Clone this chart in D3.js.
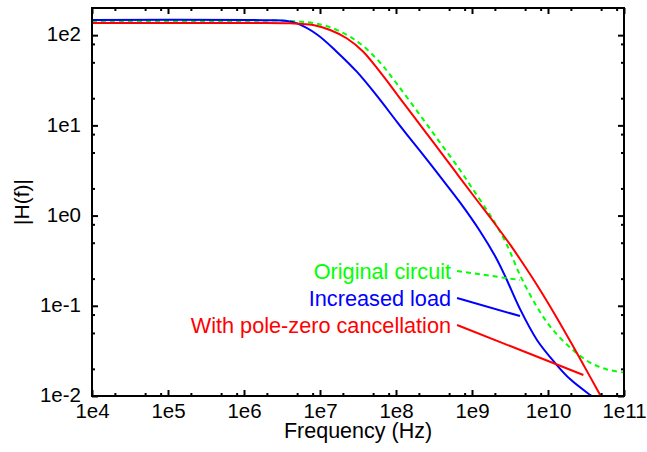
<!DOCTYPE html>
<html>
<head>
<meta charset="utf-8">
<script src="https://cdn.jsdelivr.net/npm/d3@7/dist/d3.min.js"></script>
<style>
  body { margin: 0; background: #fff; }
  text { font-family: 'Liberation Sans', Arial, Helvetica, sans-serif; }
</style>
</head>
<body>
<div id="chart"></div>
<script>
// [frequency (Hz), |H(f)|]
var originalCircuit = [
  [1e4, 143.6], [1e6, 143.6], [4.03e6, 143.6], [1.09e7, 129.7], [2.27e7, 100.5],
  [3.68e7, 75.9], [6.16e7, 49.8], [1.03e8, 28.8], [2.07e8, 13.0], [3.79e8, 6.46],
  [6.95e8, 3.20], [1.03e9, 1.95], [1.57e9, 1.15], [2.01e9, 0.828], [2.89e9, 0.472],
  [4.28e9, 0.219], [7.16e9, 0.097], [1.16e10, 0.054], [2.13e10, 0.0324],
  [3.57e10, 0.0235], [5.97e10, 0.0197], [1e11, 0.0182]
]

var increasedLoad = [
  [1e4, 147.5], [1.2e6, 147.5], [2.2e6, 146.2], [3.68e6, 143.6], [4.98e6, 134.9],
  [9.14e6, 101.8], [1.67e7, 65.2], [3.07e7, 39.1], [5.62e7, 21.2], [1.06e8, 10.6],
  [2.07e8, 5.20], [3.79e8, 2.72], [6.95e8, 1.40], [1.27e9, 0.675], [2.01e9, 0.356],
  [2.72e9, 0.214], [4.28e9, 0.0922], [7.16e9, 0.0418], [1.24e10, 0.0232],
  [1.95e10, 0.0154], [3.57e10, 0.0103], [5.62e10, 0.0079]
]

var poleZero = [
  [1e4, 136.5], [1e6, 136.5], [4.03e6, 135.5], [8.09e6, 129.7], [1.36e7, 114.2],
  [2.27e7, 91.9], [3.68e7, 65.9], [6.16e7, 39.1], [1.06e8, 21.4], [1.67e8, 12.9],
  [3.07e8, 6.55], [5.62e8, 3.33], [1.03e9, 1.69], [2.01e9, 0.807], [3.16e9, 0.479],
  [4.28e9, 0.330], [7.16e9, 0.170], [1.31e10, 0.0733], [2.13e10, 0.0358],
  [3.57e10, 0.0164], [4.98e10, 0.00987], [6.95e10, 0.00593]
]

// annotation lines: label, [f0, v0] -> [f1, v1]
var annotations = [
  { label: 'Original circuit', color: '#00ff00', dash: '5,4', from: [6.36e8, 0.243], to: [4.28e9, 0.193] },
  { label: 'Increased load', color: '#0000ff', dash: null, from: [6.36e8, 0.122], to: [4.28e9, 0.077] },
  { label: 'With pole-zero cancellation', color: '#ff0000', dash: null, from: [6.36e8, 0.0612], to: [2.92e10, 0.0171] }
]

var xMajor = [1e4, 1e5, 1e6, 1e7, 1e8, 1e9, 1e10, 1e11]
var xTickLabels = ['1e4', '1e5', '1e6', '1e7', '1e8', '1e9', '1e10', '1e11']
var yMajor = [1e-2, 1e-1, 1e0, 1e1, 1e2]
var yTickLabels = ['1e-2', '1e-1', '1e0', '1e1', '1e2']
var minorSteps = [2, 5, 8]

var margin = { top: 8, left: 92, right: 23, bottom: 56 }
var width = 647 - margin.left - margin.right
var height = 452 - margin.top - margin.bottom

var svg = d3
  .select('#chart')
  .append('svg')
  .attr('width', width + margin.left + margin.right)
  .attr('height', height + margin.top + margin.bottom)
  .append('g')
  .attr('transform', 'translate(' + margin.left + ',' + margin.top + ')')

var xPositionScale = d3.scaleLog().domain([1e4, 1e11]).range([0, width])
var yPositionScale = d3.scaleLog().domain([0.01, 200]).range([height, 0])

var xMinor = []
xMajor.slice(0, -1).forEach(function(d) {
  minorSteps.forEach(function(m) { xMinor.push(d * m) })
})
var yMinor = []
yMajor.forEach(function(d) {
  minorSteps.forEach(function(m) { if (d * m < 200) yMinor.push(d * m) })
})

svg.append('clipPath')
  .attr('id', 'plot-clip')
  .append('rect')
  .attr('width', width)
  .attr('height', height)

var line = d3
  .line()
  .x(function(d) { return xPositionScale(d[0]) })
  .y(function(d) { return yPositionScale(d[1]) })
  .curve(d3.curveCatmullRom.alpha(0.5))

var plot = svg.append('g').attr('clip-path', 'url(#plot-clip)')

plot.append('path')
  .datum(originalCircuit)
  .attr('d', line)
  .attr('fill', 'none')
  .attr('stroke', '#00ff00')
  .attr('stroke-width', 2)
  .attr('stroke-dasharray', '5,4')

plot.append('path')
  .datum(increasedLoad)
  .attr('d', line)
  .attr('fill', 'none')
  .attr('stroke', '#0000ff')
  .attr('stroke-width', 2)

plot.append('path')
  .datum(poleZero)
  .attr('d', line)
  .attr('fill', 'none')
  .attr('stroke', '#ff0000')
  .attr('stroke-width', 2)

// annotation lines and labels
annotations.forEach(function(a) {
  svg.append('line')
    .attr('x1', xPositionScale(a.from[0]))
    .attr('y1', yPositionScale(a.from[1]))
    .attr('x2', xPositionScale(a.to[0]))
    .attr('y2', yPositionScale(a.to[1]))
    .attr('stroke', a.color)
    .attr('stroke-width', 2)
    .attr('stroke-dasharray', a.dash)
  svg.append('text')
    .text(a.label)
    .attr('x', xPositionScale(a.from[0]) - 6)
    .attr('y', yPositionScale(a.from[1]))
    .attr('dy', '0.35em')
    .attr('text-anchor', 'end')
    .attr('font-size', 21.7)
    .attr('fill', a.color)
})

// axes: major + minor ticks on all four sides, pointing inward
function styleAxis(g) {
  g.select('.domain').remove()
  g.selectAll('line').attr('stroke', '#000').attr('stroke-width', 2)
  g.selectAll('text').attr('font-size', 20.5).attr('fill', '#000')
}

svg.append('g')
  .attr('transform', 'translate(0,' + height + ')')
  .call(d3.axisBottom(xPositionScale).tickValues(xMajor)
    .tickFormat(function(d, i) { return xTickLabels[i] })
    .tickSizeInner(-6).tickSizeOuter(0).tickPadding(7))
  .call(styleAxis)
svg.append('g')
  .attr('transform', 'translate(0,' + height + ')')
  .call(d3.axisBottom(xPositionScale).tickValues(xMinor).tickFormat('').tickSizeInner(-3).tickSizeOuter(0))
  .call(styleAxis)
svg.append('g')
  .call(d3.axisTop(xPositionScale).tickValues(xMajor).tickFormat('').tickSizeInner(-6).tickSizeOuter(0))
  .call(styleAxis)
svg.append('g')
  .call(d3.axisTop(xPositionScale).tickValues(xMinor).tickFormat('').tickSizeInner(-3).tickSizeOuter(0))
  .call(styleAxis)

svg.append('g')
  .call(d3.axisLeft(yPositionScale).tickValues(yMajor)
    .tickFormat(function(d, i) { return yTickLabels[i] })
    .tickSizeInner(-6).tickSizeOuter(0).tickPadding(11))
  .call(styleAxis)
  .selectAll('text').attr('dy', '0.28em')
svg.append('g')
  .call(d3.axisLeft(yPositionScale).tickValues(yMinor).tickFormat('').tickSizeInner(-3).tickSizeOuter(0))
  .call(styleAxis)
svg.append('g')
  .attr('transform', 'translate(' + width + ',0)')
  .call(d3.axisRight(yPositionScale).tickValues(yMajor).tickFormat('').tickSizeInner(-6).tickSizeOuter(0))
  .call(styleAxis)
svg.append('g')
  .attr('transform', 'translate(' + width + ',0)')
  .call(d3.axisRight(yPositionScale).tickValues(yMinor).tickFormat('').tickSizeInner(-3).tickSizeOuter(0))
  .call(styleAxis)

svg.append('rect')
  .attr('width', width)
  .attr('height', height)
  .attr('fill', 'none')
  .attr('stroke', '#000')
  .attr('stroke-width', 2)

svg.append('text')
  .text('Frequency (Hz)')
  .attr('x', width / 2)
  .attr('y', height + 42)
  .attr('text-anchor', 'middle')
  .attr('font-size', 21.5)

svg.append('text')
  .text('|H(f)|')
  .attr('transform', 'translate(' + (29 - margin.left) + ',' + height / 2 + ') rotate(-90)')
  .attr('text-anchor', 'middle')
  .attr('font-size', 21)
</script>
</body>
</html>
